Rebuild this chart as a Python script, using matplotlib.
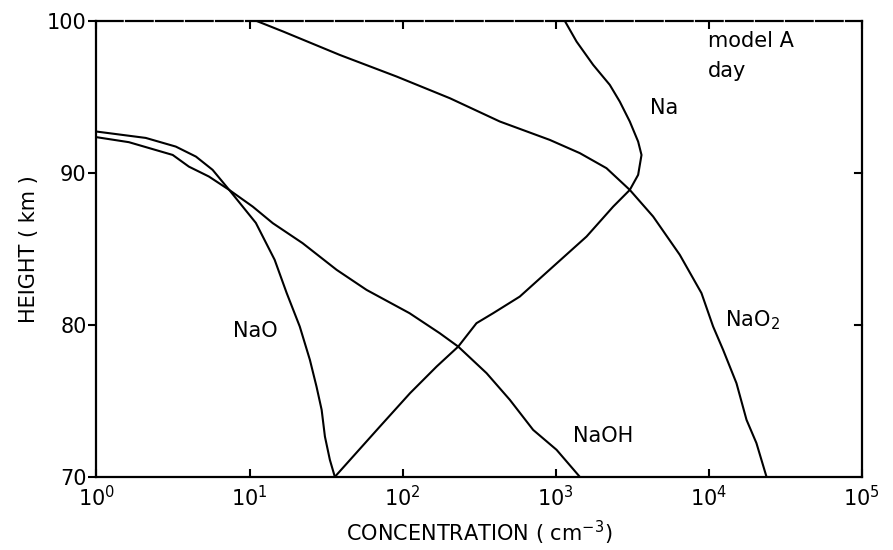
import matplotlib.pyplot as plt
from matplotlib.ticker import NullLocator

# concentration (cm^-3) vs height (km)
nao_conc = [1.0, 2.1, 3.3, 4.47, 5.74, 7.37, 11.0, 14.6, 17.5, 21.3, 24.8, 27.4, 29.6, 31.1, 33.5, 36.1]
nao_h = [92.72, 92.30, 91.73, 91.07, 90.20, 88.88, 86.71, 84.28, 82.09, 79.89, 77.70, 75.94, 74.41, 72.65, 71.12, 70.0]

naoh_conc = [1.0, 1.63, 3.15, 4.02, 5.43, 7.37, 10.5, 14.2, 22.2, 37.1, 58.2, 111, 175, 231, 354, 502, 713, 1014, 1439]
naoh_h = [92.35, 92.02, 91.18, 90.41, 89.76, 88.88, 87.78, 86.69, 85.38, 83.62, 82.30, 80.77, 79.45, 78.57, 76.82, 75.07, 73.09, 71.78, 70.0]

na_conc = [36.1, 71.1, 112, 167, 231, 304, 391, 583, 964, 1592, 2377, 3052, 3460, 3640, 3460, 3052, 2625, 2259, 1758, 1370, 1148]
na_h = [70.0, 73.31, 75.51, 77.26, 78.57, 80.11, 80.77, 81.86, 83.84, 85.81, 87.78, 88.88, 89.87, 91.18, 92.06, 93.38, 94.69, 95.79, 97.11, 98.64, 100.0]

nao2_conc = [11.1, 16.6, 38.9, 91.4, 204, 432, 916, 1439, 2149, 3052, 4335, 6473, 8970, 10690, 12420, 15190, 17670, 20510, 23870]
nao2_h = [100.0, 99.30, 97.76, 96.34, 94.91, 93.38, 92.17, 91.30, 90.31, 88.88, 87.13, 84.61, 82.09, 79.89, 78.36, 76.16, 73.75, 72.22, 70.0]

xticks = [1, 10, 100, 1000, 10000, 100000]
xticklabels = ['$10^0$', '$10^1$', '$10^2$', '$10^3$', '$10^4$', '$10^5$']
yticks = [70, 80, 90, 100]

plt.rcParams['mathtext.fontset'] = 'dejavusans'
fig = plt.figure(figsize=(8.93, 5.5), dpi=100)
ax = fig.add_axes([0.108, 0.133, 0.857, 0.829])

lw = 1.5
ax.plot(nao_conc, nao_h, color='black', lw=lw)
ax.plot(naoh_conc, naoh_h, color='black', lw=lw)
ax.plot(na_conc, na_h, color='black', lw=lw)
ax.plot(nao2_conc, nao2_h, color='black', lw=lw)

ax.set_xscale('log')
ax.set_xlim(1, 1e5)
ax.set_ylim(70, 100)
ax.xaxis.set_minor_locator(NullLocator())
ax.set_xticks(xticks)
ax.set_xticklabels(xticklabels)
ax.set_yticks(yticks)
ax.set_yticklabels([str(v) for v in yticks])

ax.tick_params(axis='x', direction='in', top=True, length=6, width=1.5,
               labelsize=15, pad=6)
ax.tick_params(axis='y', direction='out', length=6, width=1.5,
               labelsize=15, pad=1)
# inward ticks on right side
for yv in [80, 90]:
    ax.plot([1e5 / 1.1, 1e5], [yv, yv], color='black', lw=1.5, clip_on=False)

for s in ['left', 'right', 'bottom']:
    ax.spines[s].set_linewidth(1.6)
ax.spines['top'].set_linewidth(1.6)
ax.spines['top'].set_linestyle((0, (12, 1.5)))

ax.set_xlabel('CONCENTRATION ( cm$^{-3}$)', fontsize=15, labelpad=6)
ax.set_ylabel('HEIGHT ( km )', fontsize=15, labelpad=6)

# curve labels
ax.text(10**((708 - 96.5) / 153.1), 98.7, 'model A', fontsize=15, va='center')
ax.text(10**((708 - 96.5) / 153.1), 96.7, 'day', fontsize=15, va='center')
ax.text(10**((650 - 96.5) / 153.1), 94.3, 'Na', fontsize=15, va='center')
ax.text(10**((233 - 96.5) / 153.1), 79.6, 'NaO', fontsize=15, va='center')
ax.text(10**((573 - 96.5) / 153.1), 72.7, 'NaOH', fontsize=15, va='center')
ax.text(10**((725 - 96.5) / 153.1), 80.3, 'NaO$_2$', fontsize=15, va='center')

fig.savefig('out.png', dpi=100)
